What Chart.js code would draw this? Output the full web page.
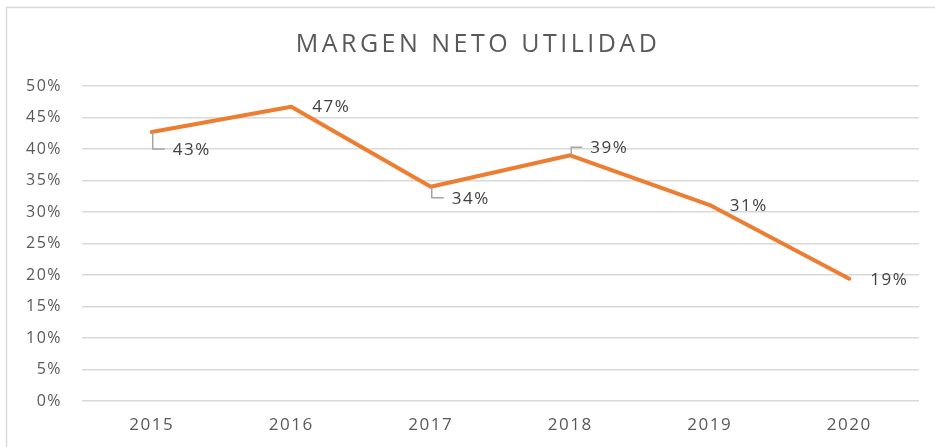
<!DOCTYPE html>
<html>
<head>
<meta charset="utf-8">
<script src="https://cdn.jsdelivr.net/npm/chart.js@4.4.1/dist/chart.umd.min.js"></script>
<style>
	html, body { margin: 0; padding: 0; background: #fff; }
	.chart_wrap { position: relative; width: 935px; height: 447px; }
</style>
</head>
<body>
<div class="chart_wrap"><canvas id="chart_margen"></canvas></div>
<script>
const labels = ['2015', '2016', '2017', '2018', '2019', '2020'];
const margenData = [42.7, 46.7, 34.0, 39.0, 31.1, 19.4];
const margenLabels = ['43%', '47%', '34%', '39%', '31%', '19%'];
const titleText = 'MARGEN NETO UTILIDAD';

// where each value label sits relative to its point (like the Excel chart)
const labelPlace = [
	{ dx: 21, dy: 18, leader: true },
	{ dx: 21, dy: 0, leader: false },
	{ dx: 21, dy: 12, leader: true },
	{ dx: 20, dy: -7, leader: true },
	{ dx: 20, dy: 1, leader: false },
	{ dx: 21, dy: 1, leader: false },
];

const frameAndTitle = {
	id: 'frameAndTitle',
	beforeDraw(chart) {
		const ctx = chart.ctx;
		ctx.save();
		ctx.strokeStyle = '#d9d9d9';
		ctx.lineWidth = 1.5;
		ctx.beginPath();
		ctx.moveTo(6.5, 447);
		ctx.lineTo(6.5, 7.5);
		ctx.lineTo(935, 7.5);
		ctx.stroke();
		ctx.restore();
		// excel text is wider than open sans, spread the tick labels a bit
		ctx.letterSpacing = '1.5px';
	},
	afterDraw(chart) {
		const ctx = chart.ctx;
		ctx.save();
		ctx.font = '25px "Open Sans"';
		ctx.letterSpacing = '3.5px';
		ctx.fillStyle = '#595959';
		ctx.textAlign = 'center';
		ctx.textBaseline = 'middle';
		ctx.fillText(titleText, 478, 45);
		ctx.restore();
	},
};

const pointLabels = {
	id: 'pointLabels',
	afterDatasetsDraw(chart) {
		const ctx = chart.ctx;
		const meta = chart.getDatasetMeta(0);
		ctx.save();
		ctx.font = '17px "Open Sans"';
		ctx.letterSpacing = '1.5px';
		ctx.fillStyle = '#404040';
		ctx.textBaseline = 'middle';
		meta.data.forEach((pt, i) => {
			const p = labelPlace[i];
			const tx = pt.x + p.dx;
			const ty = pt.y + p.dy;
			if (p.leader) {
				ctx.strokeStyle = '#a6a6a6';
				ctx.lineWidth = 1.5;
				ctx.beginPath();
				ctx.moveTo(pt.x + 1, pt.y);
				ctx.lineTo(pt.x + 1, ty - 1);
				ctx.lineTo(tx - 8, ty - 1);
				ctx.stroke();
			}
			ctx.fillText(margenLabels[i], tx, ty);
		});
		ctx.restore();
	},
};

const margen = document.getElementById('chart_margen');

const chartMargen = new Chart(margen, {
	type: 'line',
	data: {
		labels: labels,
		datasets: [
			{
				label: 'Margen neto',
				data: margenData,
				borderColor: '#ed7d31',
				borderWidth: 4,
				pointRadius: 0,
				tension: 0,
				borderJoinStyle: 'round',
				borderCapStyle: 'round',
			},
		],
	},
	plugins: [frameAndTitle, pointLabels],
	options: {
		responsive: true,
		maintainAspectRatio: false,
		animation: false,
		layout: {
			padding: { top: 86, right: 16, bottom: 12, left: 0 },
		},
		plugins: {
			legend: { display: false },
			title: { display: false },
			tooltip: { enabled: false },
		},
		scales: {
			x: {
				offset: true,
				grid: { display: false, drawTicks: false },
				border: { display: false },
				ticks: {
					color: '#595959',
					padding: 14,
					maxRotation: 0,
					font: { family: 'Open Sans', size: 17 },
				},
				afterFit: scale => {
					scale.height = 34;
				},
			},
			y: {
				min: 0,
				max: 50,
				grid: { color: '#d9d9d9', lineWidth: 1.5, drawTicks: false },
				border: { display: false },
				ticks: {
					stepSize: 5,
					color: '#595959',
					padding: 20,
					font: { family: 'Open Sans', size: 16 },
					callback: v => v + '%',
				},
				afterFit: scale => {
					scale.width = 82;
				},
			},
		},
	},
});
</script>
</body>
</html>
